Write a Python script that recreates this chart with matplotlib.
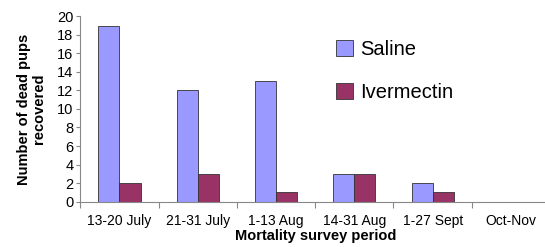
import matplotlib
matplotlib.use("Agg")
import matplotlib.pyplot as plt
import numpy as np

categories = ["13-20 July", "21-31 July", "1-13 Aug", "14-31 Aug", "1-27 Sept", "Oct-Nov"]
saline = [19, 12, 13, 3, 2, 0]
ivermectin = [2, 3, 1, 3, 1, 0]
yticks = [0, 2, 4, 6, 8, 10, 12, 14, 16, 18, 20]

plt.rcParams['font.family'] = ['Liberation Sans', 'DejaVu Sans']

fig = plt.figure(figsize=(5.45, 2.47), dpi=100)
left = 80.3 / 545
right_px = 80.3 + 6 * 78.3
bottom = 1 - 201.6 / 247
top = 1 - 16.3 / 247
ax = fig.add_axes([left, bottom, (right_px - 80.3) / 545, top - bottom])

x = np.arange(len(categories))
w = 0.27
ax.bar(x - w / 2, saline, w, color="#9999FF", edgecolor="#333333", linewidth=0.6, label="Saline")
ax.bar(x + w / 2, ivermectin, w, color="#993366", edgecolor="#333333", linewidth=0.6, label="Ivermectin")

ax.set_xlim(-0.5, len(categories) - 0.5)
ax.set_ylim(0, 20)
ax.set_yticks(yticks)
ax.tick_params(axis='y', labelsize=10.5, length=3, width=0.8, color="#888888", pad=2)
ax.set_xticks(x)
ax.set_xticklabels(categories, fontsize=10)
ax.tick_params(axis='x', which='major', length=0, pad=9)
ax.set_xticks(np.arange(len(categories) + 1) - 0.5, minor=True)
ax.tick_params(axis='x', which='minor', length=4, width=0.8, color="#888888")
for s in ["top", "right"]:
    ax.spines[s].set_visible(False)
for s in ["left", "bottom"]:
    ax.spines[s].set_color("#888888")
    ax.spines[s].set_linewidth(0.8)

ax.set_xlabel("Mortality survey period", fontsize=10.5, fontweight="bold", labelpad=1)
ax.set_ylabel("Number of dead pups\nrecovered", fontsize=10.5, fontweight="bold", labelpad=8, linespacing=1.1)

leg = ax.legend(loc="upper left", bbox_to_anchor=(0.505, 0.97), frameon=False, fontsize=14.5,
                handlelength=0.85, handleheight=0.85, handletextpad=0.35, labelspacing=1.2)

fig.savefig("out.png", dpi=100)
